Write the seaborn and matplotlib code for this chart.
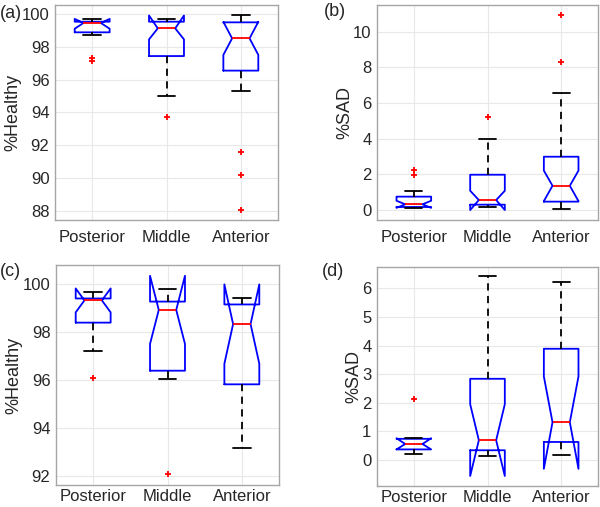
import matplotlib
matplotlib.use('Agg')
import matplotlib.pyplot as plt
import seaborn as sns

# Summary statistics (one row per panel a-d)
regions = ['Posterior', 'Middle', 'Anterior']
panel_tags = ['(a)', '(b)', '(c)', '(d)']
ylabels = ['%Healthy', '%SAD', '%Healthy', '%SAD']

whis_lo = [[98.75, 95.03, 95.34], [0.09, 0.15, 0.04], [97.23, 96.06, 93.14], [0.20, 0.15, 0.19]]
q1 = [[98.90, 97.45, 96.56], [0.17, 0.30, 0.47], [98.40, 96.39, 95.82], [0.37, 0.34, 0.63]]
med = [[99.47, 99.14, 98.53], [0.32, 0.56, 1.36], [99.33, 98.93, 98.34], [0.56, 0.69, 1.32]]
q3 = [[99.55, 99.55, 99.51], [0.75, 1.98, 2.99], [99.41, 99.28, 99.16], [0.74, 2.84, 3.89]]
whis_hi = [[99.72, 99.71, 99.96], [1.08, 3.96, 6.54], [99.67, 99.79, 99.44], [0.78, 6.43, 6.23]]
notch_lo = [[99.12, 98.47, 97.52], [0.12, 0.00, 0.50], [98.83, 97.51, 96.68], [0.37, -0.56, -0.31]]
notch_hi = [[99.72, 99.93, 99.54], [0.52, 1.08, 2.21], [99.83, 100.36, 100.00], [0.76, 1.95, 2.92]]
outliers = [
    [[97.35, 97.13], [93.72], [91.58, 90.17, 88.03]],
    [[1.95, 2.25], [5.20], [8.28, 10.95]],
    [[96.10], [92.05], []],
    [[2.14], [], []],
]

ylims = [(87.43, 100.57), (-0.56, 11.5), (91.61, 100.81), (-0.91, 6.75)]
yticks = [range(88, 101, 2), range(0, 11, 2), range(92, 101, 2), range(0, 7, 1)]

sns.set_style('whitegrid')
plt.rcParams['font.family'] = ['Liberation Sans', 'DejaVu Sans']

fig = plt.figure(figsize=(6, 5.07), dpi=100)
W, H = 600, 507
# axes boxes in pixels: left, top, right, bottom
boxes = [(55, 5, 278, 220), (377, 5, 598, 220), (56, 265, 279, 485), (377, 267, 598, 486)]
tag_pos = [(0, 13), (324, 11), (0, 272), (322, 272)]
xpads = [7, 7, 3, 3]

for i in range(4):
    l, t, r, b = boxes[i]
    ax = fig.add_axes([l / W, 1 - b / H, (r - l) / W, (b - t) / H])
    stats = []
    for j, name in enumerate(regions):
        stats.append(dict(med=med[i][j], q1=q1[i][j], q3=q3[i][j],
                          whislo=whis_lo[i][j], whishi=whis_hi[i][j],
                          cilo=notch_lo[i][j], cihi=notch_hi[i][j],
                          fliers=outliers[i][j], label=name))
    ax.bxp(stats, positions=[1, 2, 3], widths=0.47, shownotches=True,
           boxprops=dict(color='#0000ff', linewidth=1.3),
           medianprops=dict(color='#ff0000', linewidth=1.3),
           whiskerprops=dict(color='black', linewidth=1.3, linestyle=(0, (4, 3))),
           capprops=dict(color='black', linewidth=1.3),
           flierprops=dict(marker='+', markeredgecolor='#ff0000', markersize=4,
                           markeredgewidth=1.3, linestyle='none'))
    ax.set_xlim(0.5, 3.5)
    ax.set_ylim(*ylims[i])
    ax.set_yticks(list(yticks[i]))
    ax.set_xticks([1, 2, 3])
    ax.set_xticklabels(regions)
    ax.set_ylabel(ylabels[i], fontsize=13, color='#262626', labelpad=0)
    ax.tick_params(axis='both', labelsize=12, labelcolor='#262626', color='#a6a6a6',
                   direction='in', length=3, width=0.8)
    ax.tick_params(axis='y', pad=4)
    ax.tick_params(axis='x', pad=xpads[i])
    ax.grid(True, color='#e8e8e8', linewidth=0.8)
    ax.set_axisbelow(True)
    for s in ax.spines.values():
        s.set_color('#a6a6a6')
        s.set_linewidth(1.0)
    fig.text(tag_pos[i][0] / W, 1 - tag_pos[i][1] / H, panel_tags[i],
             fontsize=13, color='#262626', va='center', ha='left')

fig.savefig('out.png', dpi=100)
